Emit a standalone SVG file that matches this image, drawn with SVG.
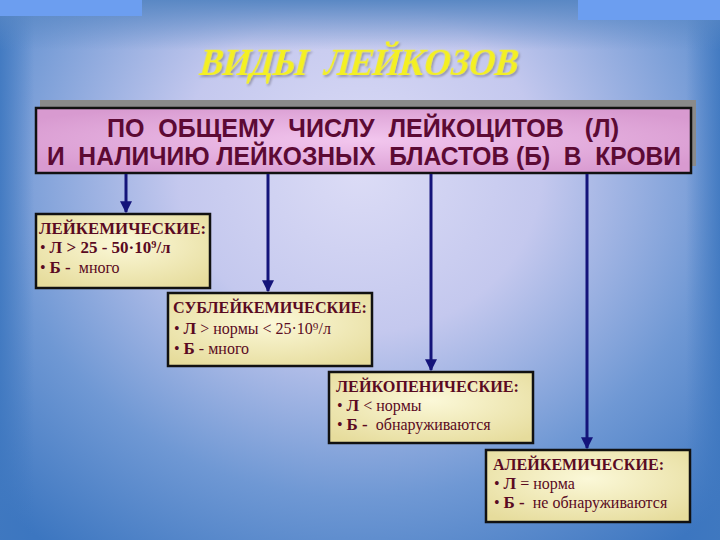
<svg xmlns="http://www.w3.org/2000/svg" width="720" height="540" viewBox="0 0 720 540">
<defs>
<radialGradient id="bg" cx="360" cy="170" r="520" gradientUnits="userSpaceOnUse" gradientTransform="translate(360 170) scale(1 0.9) translate(-360 -170)">
<stop offset="0" stop-color="#dcdcf6"/>
<stop offset="0.35" stop-color="#c4c8ee"/>
<stop offset="0.7" stop-color="#6f98d4"/>
<stop offset="1" stop-color="#3c76c0"/>
</radialGradient>
<linearGradient id="edgeL" x1="0" y1="0" x2="1" y2="0">
<stop offset="0" stop-color="#3f78c0" stop-opacity="0.9"/>
<stop offset="1" stop-color="#3f78c0" stop-opacity="0"/>
</linearGradient>
<linearGradient id="edgeR" x1="1" y1="0" x2="0" y2="0">
<stop offset="0" stop-color="#3f78c0" stop-opacity="0.9"/>
<stop offset="1" stop-color="#3f78c0" stop-opacity="0"/>
</linearGradient>
<linearGradient id="topfade" x1="0" y1="0" x2="0" y2="1">
<stop offset="0" stop-color="#5a88c4"/>
<stop offset="1" stop-color="#5a88c4" stop-opacity="0"/>
</linearGradient>
<radialGradient id="pink" cx="0.5" cy="0.5" r="0.6">
<stop offset="0" stop-color="#f2c6ee"/>
<stop offset="1" stop-color="#d89ad0"/>
</radialGradient>
<radialGradient id="cream" cx="0.5" cy="0.4" r="0.7">
<stop offset="0" stop-color="#fbf8d8"/>
<stop offset="1" stop-color="#e6dc9c"/>
</radialGradient>
<marker id="ah" viewBox="0 0 10 10" refX="9" refY="5" markerWidth="4" markerHeight="4" orient="auto">
<path d="M0,0 L10,5 L0,10 z" fill="#14147a"/>
</marker>
<filter id="tsh" x="-5%" y="-5%" width="115%" height="130%">
<feDropShadow dx="2" dy="2" stdDeviation="0.8" flood-color="#8a8aa0" flood-opacity="0.8"/>
</filter>
</defs>
<style>
text{white-space:pre}
.ttl{font-family:"Liberation Serif","DejaVu Serif",serif;font-weight:bold;font-size:38px;fill:#f4f020}
.hdr{font-family:"Liberation Sans",Arial,sans-serif;font-weight:bold;font-size:26px;fill:#5c0a34}
.box{fill:url(#cream);stroke:#111;stroke-width:2.5}
.t{font-family:"Liberation Serif","Times New Roman",serif;font-size:16px;fill:#5a0a22}
.tt{font-weight:bold;font-size:16px}
.b{font-weight:bold;font-size:17px}
.con{stroke:#14147a;stroke-width:3;fill:none}
</style>
<rect width="720" height="540" fill="url(#bg)"/>
<rect x="0" y="0" width="34" height="540" fill="url(#edgeL)"/>
<rect x="686" y="0" width="34" height="540" fill="url(#edgeR)"/>
<rect x="0" y="0" width="720" height="50" fill="url(#topfade)"/>
<rect x="0" y="0" width="142" height="16" fill="#6c9ef0"/>
<rect x="578" y="0" width="142" height="20" fill="#6c9ef0"/>

<g id="title">
<g transform="translate(357 75) skewX(-14)">
<text class="ttl" x="0" y="0" text-anchor="middle" filter="url(#tsh)" textLength="318" lengthAdjust="spacingAndGlyphs">ВИДЫ  ЛЕЙКОЗОВ</text>
</g>
</g>

<g id="header">
<rect x="40" y="100" width="656" height="66" fill="#8a8a8a"/>
<rect x="36" y="108" width="655" height="65" fill="url(#pink)" stroke="#111" stroke-width="2.5"/>
<text class="hdr" x="363" y="137" text-anchor="middle" textLength="512" lengthAdjust="spacingAndGlyphs">ПО  ОБЩЕМУ  ЧИСЛУ  ЛЕЙКОЦИТОВ   (Л)</text>
<text class="hdr" x="364" y="165" text-anchor="middle" textLength="634" lengthAdjust="spacingAndGlyphs">И  НАЛИЧИЮ ЛЕЙКОЗНЫХ  БЛАСТОВ (Б)  В  КРОВИ</text>
</g>

<g id="connectors">
<line class="con" x1="126" y1="174" x2="126" y2="212" marker-end="url(#ah)"/>
<line class="con" x1="268" y1="174" x2="268" y2="291" marker-end="url(#ah)"/>
<line class="con" x1="431" y1="174" x2="431" y2="370" marker-end="url(#ah)"/>
<line class="con" x1="587" y1="174" x2="587" y2="448" marker-end="url(#ah)"/>
</g>

<g id="leukemic">
<rect class="box" x="36" y="214" width="174" height="74"/>
<text class="t tt" x="39" y="234" textLength="167" lengthAdjust="spacingAndGlyphs">ЛЕЙКЕМИЧЕСКИЕ:</text>
<text class="t" x="40" y="253">• <tspan class="b">Л &gt; 25 - 50·10⁹/л</tspan></text>
<text class="t" x="40" y="273">• <tspan class="b">Б -</tspan>  много</text>
</g>

<g id="subleukemic">
<rect class="box" x="168" y="293" width="204" height="73"/>
<text class="t tt" x="173" y="313" textLength="194" lengthAdjust="spacingAndGlyphs">СУБЛЕЙКЕМИЧЕСКИЕ:</text>
<text class="t" x="174" y="334">• <tspan class="b">Л</tspan> &gt; нормы &lt; 25·10⁹/л</text>
<text class="t" x="174" y="354">• <tspan class="b">Б</tspan> - много</text>
</g>

<g id="leukopenic">
<rect class="box" x="329" y="372" width="204" height="71"/>
<text class="t tt" x="336" y="392" textLength="183" lengthAdjust="spacingAndGlyphs">ЛЕЙКОПЕНИЧЕСКИЕ:</text>
<text class="t" x="337" y="411">• <tspan class="b">Л</tspan> &lt; нормы</text>
<text class="t" x="337" y="430">• <tspan class="b">Б -</tspan>  обнаруживаются</text>
</g>

<g id="aleukemic">
<rect class="box" x="486" y="450" width="204" height="72"/>
<text class="t tt" x="493" y="470" textLength="171" lengthAdjust="spacingAndGlyphs">АЛЕЙКЕМИЧЕСКИЕ:</text>
<text class="t" x="494" y="489">• <tspan class="b">Л</tspan> = норма</text>
<text class="t" x="494" y="508">• <tspan class="b">Б -</tspan>  не обнаруживаются</text>
</g>
</svg>
